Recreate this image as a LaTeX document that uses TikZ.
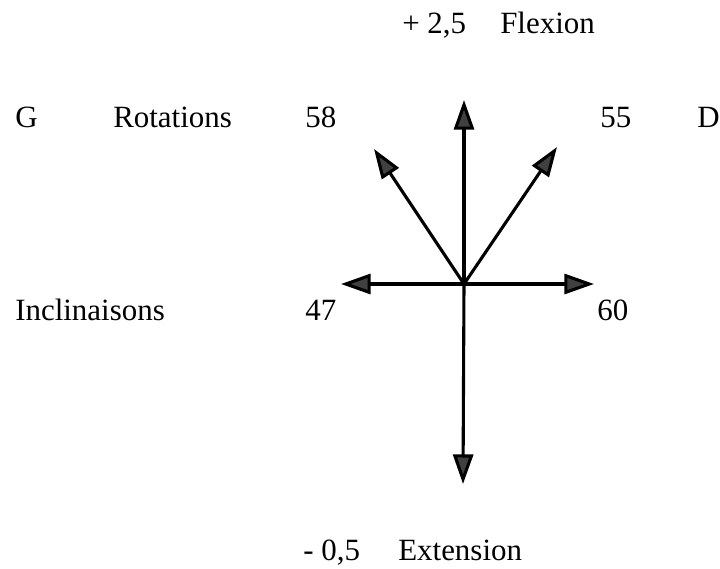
\documentclass[tikz,border=0pt]{standalone}
\usepackage{fontspec}
\setmainfont{Liberation Serif}
\usepackage{tikz}
\usetikzlibrary{arrows.meta}
\tikzset{
  txt/.style={inner sep=0pt, anchor=base west, font=\fontsize{22}{26}\selectfont},
  arrow/.style={-{Triangle[length=7.4mm,width=5mm,fill=black!75]}, line width=2.2pt, draw=black}
}

\begin{document}
\begin{tikzpicture}[x=0.025cm, y=-0.025cm]
  \useasboundingbox (0,0) rectangle (720,568);
  % centre and arrow tips
  \coordinate (o) at (464,284);
  \coordinate (up) at (464,100);
  \coordinate (down) at (463,484);
  \coordinate (lt) at (341,284);
  \coordinate (rt) at (594,284);
  \coordinate (ul) at (374,149);
  \coordinate (ur) at (557,147);
  \foreach \v in {up,down,lt,rt,ul,ur}
    \draw[arrow] (o)--(\v);
  % labels
  \node[txt] (plus) at (402,33) {+ 2,5};
  \node[txt] (flex) at (500,33) {Flexion};
  \node[txt] (g) at (15,127) {G};
  \node[txt] (rot) at (113,127) {Rotations};
  \node[txt] (r58) at (305,127) {58};
  \node[txt] (r55) at (600,127) {55};
  \node[txt] (d) at (697,127) {D};
  \node[txt] (incl) at (15,320) {Inclinaisons};
  \node[txt] (i47) at (305,320) {47};
  \node[txt] (i60) at (597,320) {60};
  \node[txt] (minus) at (303,560) {- 0,5};
  \node[txt] (ext) at (398,560) {Extension};
\end{tikzpicture}
\end{document}
